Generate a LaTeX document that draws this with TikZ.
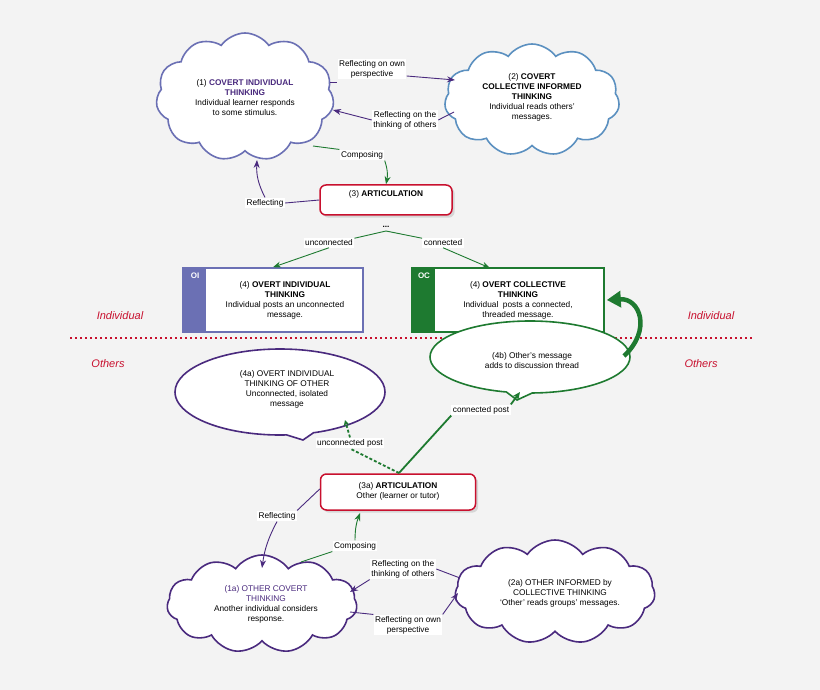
\documentclass[tikz,border=0pt]{standalone}
\usepackage{fontspec}
\setmainfont{Liberation Sans}
\usetikzlibrary{shapes.symbols,shapes.callouts,arrows.meta,calc,shadows}
\definecolor{bg}{HTML}{F3F3F3}
\definecolor{cblue}{HTML}{6B70B4}
\definecolor{sblue}{HTML}{5B90C0}
\definecolor{dpurp}{HTML}{4A2A7E}
\definecolor{dgreen}{HTML}{1E7A30}
\definecolor{dred}{HTML}{C8102E}
\definecolor{tpurp}{HTML}{4A2A7E}
\begin{document}
\begin{tikzpicture}[x=1pt,y=-1pt,
  font=\fontsize{8.3}{10}\selectfont,
  cl/.style={cloud, cloud puffs=11, cloud puff arc=110, aspect=1.4, draw, line width=1.6pt, fill=white, align=center, inner sep=0pt},
  art/.style={draw=dred, line width=1.5pt, rounded corners=6pt, fill=white, align=center, drop shadow={opacity=0.25}},
  box/.style={draw, line width=1.6pt, fill=white, align=center, minimum height=64, text width=150},
  co/.style={ellipse callout, draw, line width=1.6pt, fill=white, align=center},
  lab/.style={fill=white, inner sep=1.5pt, align=center},
  pa/.style={draw=dpurp, -{Stealth[length=8pt,width=6pt]}, line width=0.9pt},
  ga/.style={draw=dgreen, -{Stealth[length=8pt,width=6pt]}, line width=0.9pt},
  side/.style={text=dred, font=\fontsize{11}{13}\selectfont\itshape}]
\fill[bg] (0,0) rectangle (820,690);
% nodes
\node[cl, draw=cblue, minimum width=178, minimum height=128] (c1) at (245,97) {};
\node[align=center] at (245,98) {(1) \textcolor{tpurp}{\textbf{COVERT INDIVIDUAL}}\\\textcolor{tpurp}{\textbf{THINKING}}\\Individual learner responds\\to some stimulus.};
\node[cl, draw=sblue, minimum width=175, minimum height=112] (c2) at (532,100) {};
\node[align=center] at (532,97) {(2) \textbf{COVERT}\\\textbf{COLLECTIVE INFORMED}\\\textbf{THINKING}\\Individual reads others'\\messages.};
\node[art, minimum width=132, minimum height=30] (a3) at (386,200) {};
\node at (386,194) {(3) \textbf{ARTICULATION}};
\node at (386,227) {\textbf{...}};
% OI box
\node[box, draw=cblue, text width=170, minimum width=180] (oi) at (273,300) {};
\fill[cblue] (184,269) rectangle (206,331);
\node[text=white, font=\fontsize{8}{9}\selectfont\bfseries] at (195,276) {OI};
\node[align=center] at (285,300) {(4) \textbf{OVERT INDIVIDUAL}\\\textbf{THINKING}\\Individual posts an unconnected\\message.};
% OC box
\node[box, draw=dgreen, text width=182, minimum width=192] (oc) at (508,300) {};
\fill[dgreen] (413,269) rectangle (435,331);
\node[text=white, font=\fontsize{8}{9}\selectfont\bfseries] at (424,276) {OC};
\node[align=center] at (518,300) {(4) \textbf{OVERT COLLECTIVE}\\\textbf{THINKING}\\Individual\ \ posts a connected,\\threaded message.};
% divider
\draw[dred, line width=1.8pt, dash pattern=on 1.8pt off 3.2pt] (70,338) -- (752,338);
\node[side] at (120,316) {Individual};
\node[side] at (711,316) {Individual};
\node[side] at (108,364) {Others};
\node[side] at (701,364) {Others};
% callouts
\node[co, draw=dgreen, minimum width=200, minimum height=72, callout absolute pointer={(517,400)}] (c4b) at (530,357) {};
\node[align=center] at (532,361) {(4b) Other's message\\adds to discussion thread};
\node[co, draw=dpurp, minimum width=210, minimum height=86, callout absolute pointer={(303,440)}] (c4a) at (280,392) {};
\node[align=center] at (287,389) {(4a) OVERT INDIVIDUAL\\THINKING OF OTHER\\Unconnected, isolated\\message};
\node[art, minimum width=155, minimum height=36] (a3a) at (398,492) {};
\node[align=center] at (398,491) {(3a) \textbf{ARTICULATION}\\Other (learner or tutor)};
\node[cl, draw=dpurp, minimum width=190, minimum height=98] (c1a) at (262,604) {};
\node[align=center] at (266,604) {\textcolor{tpurp}{(1a) OTHER COVERT}\\\textcolor{tpurp}{THINKING}\\Another individual considers\\response.};
\node[cl, draw=dpurp, minimum width=200, minimum height=104] (c2a) at (555,592) {};
\node[align=center] at (560,593) {(2a) OTHER INFORMED by\\COLLECTIVE THINKING\\`Other' reads groups' messages.};
% connectors top
\coordinate (p1) at (330,82); \coordinate (p2) at (455,80);
\node[lab] (l1) at (372,69) {Reflecting on own\\perspective};
\draw[dpurp, line width=0.9pt] (p1) -- (l1.west|-p1);
\draw[pa] (l1.east|-p2) ++(0,-4) -- (p2);
\coordinate (p3) at (454,112); \coordinate (p4) at (333,110);
\node[lab] (l2) at (405,120) {Reflecting on the\\thinking of others};
\draw[dpurp, line width=0.9pt] (p3) -- (l2.east);
\draw[pa] (l2.west) -- (p4);
\node[lab] (l3) at (362,155) {Composing};
\draw[dgreen, line width=0.9pt] (313,146) -- (l3.north west);
\draw[ga] (l3.south east) to[bend left=15] (a3.north);
\node[lab] (l4) at (265,203) {Reflecting};
\draw[dpurp, line width=0.9pt] (a3.west) -- (l4.east);
\draw[pa] (l4.north) to[bend left=15] (257,160);
\node[lab] (l5) at (329,243) {unconnected};
\node[lab] (l6) at (443,243) {connected};
\coordinate (a3b) at (386,231);
\draw[dgreen, line width=0.9pt] (a3b) -- (l5.north east);
\draw[ga] (l5.south) -- (oi.north);
\draw[dgreen, line width=0.9pt] (a3b) -- (l6.north west);
\draw[ga] (l6.south) -- (490,268);
% big loop arrow
\draw[dgreen, line width=4.5pt, -{Triangle[length=14pt,width=16pt]}] (624,356) .. controls (652,330) and (640,298) .. ([xshift=2pt]oc.east);
% lower connectors
\coordinate (tp) at (399,473);
\node[lab] (l7) at (481,410) {connected post};
\draw[dgreen, line width=1.8pt] (tp) -- (l7.south west);
\draw[dgreen, line width=1.8pt, -{Stealth[length=8pt,width=7pt]}] (l7.north east) -- (520,392);
\node[lab] (l8) at (350,443) {unconnected post};
\draw[dgreen, line width=1.8pt, dash pattern=on 3pt off 2pt] (tp) -- (l8.south);
\draw[dgreen, line width=1.8pt, dash pattern=on 3pt off 2pt, -{Stealth[length=6pt,width=6pt]}] (l8.north) -- (345,420);
\node[lab] (l9) at (277,516) {Reflecting};
\draw[dpurp, line width=0.9pt] (a3a.west) ++(0,-3) -- (l9.north east);
\draw[pa] (l9.south) to[bend right=10] (262,568);
\node[lab] (l10) at (355,546) {Composing};
\draw[dgreen, line width=0.9pt] (301,562) -- (l10.south west);
\draw[ga] (l10.north) to[bend left=10] (360,513);
\node[lab] (l11) at (403,569) {Reflecting on the\\thinking of others};
\draw[dpurp, line width=0.9pt] (460,578) -- (l11.east);
\draw[pa] (l11.south west) -- (350,592);
\node[lab] (l12) at (408,625) {Reflecting on own\\perspective};
\draw[dpurp, line width=0.9pt] (350,612) -- (l12.north west);
\draw[pa] (l12.north east) -- (458,593);
\end{tikzpicture}
\end{document}
